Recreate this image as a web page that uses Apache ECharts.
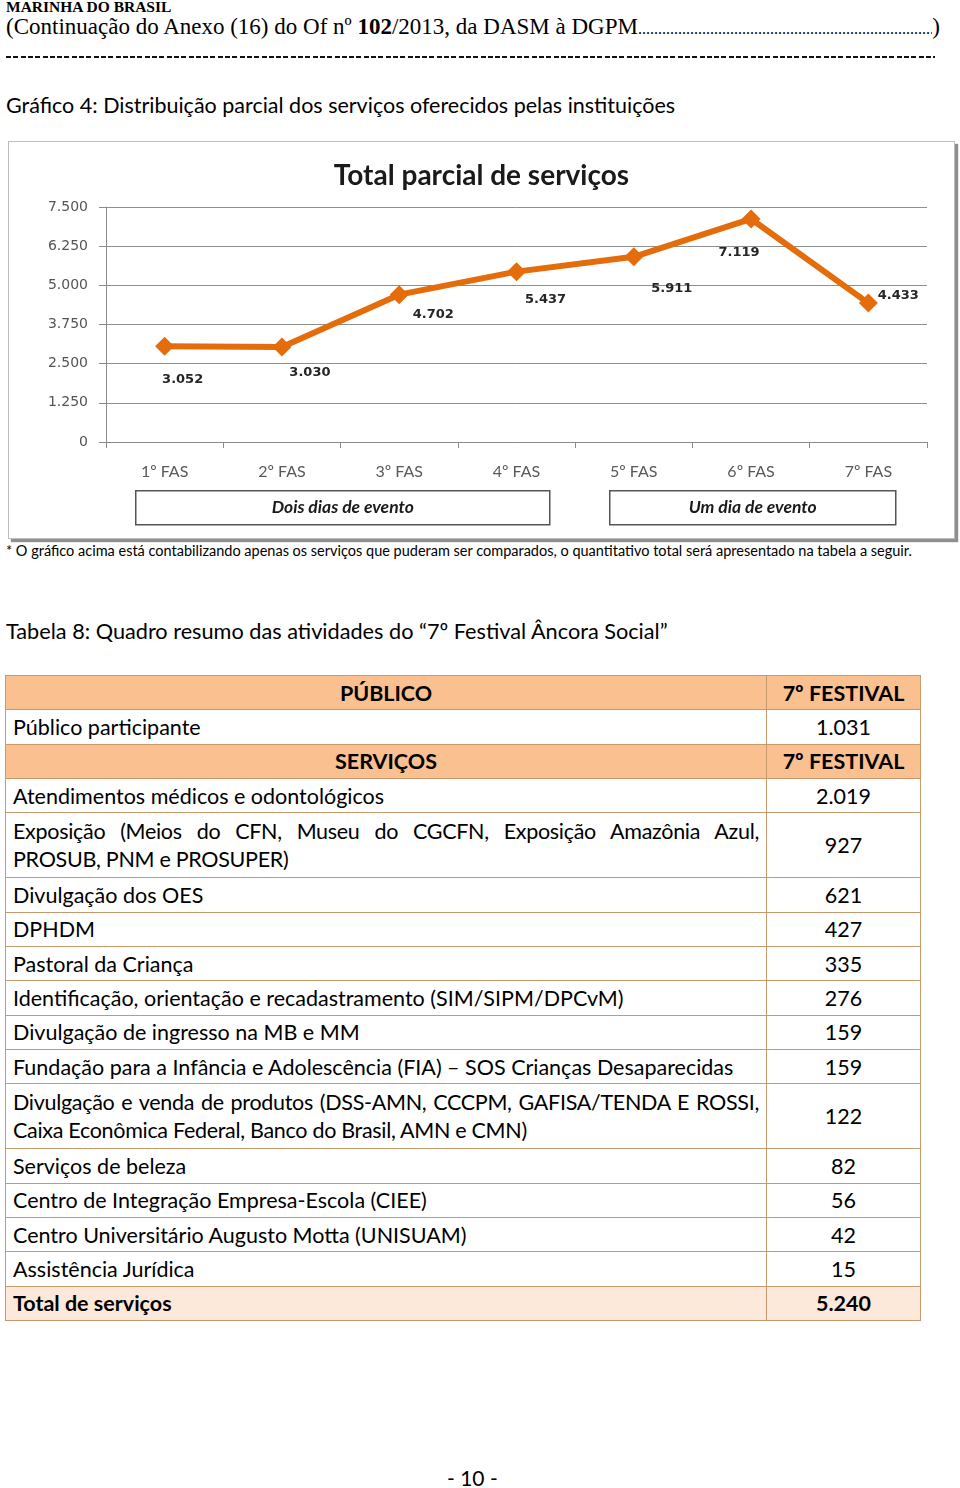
<!DOCTYPE html>
<html>
<head>
<meta charset="utf-8">
<script src="https://cdn.jsdelivr.net/npm/echarts@6/dist/echarts.min.js"></script>
<style>
  html, body { margin:0; padding:0; background:#fff; }
  body { width:960px; height:1488px; position:relative; overflow:hidden; font-family: Lato, "Open Sans", sans-serif; color:#000; }
  .abs { position:absolute; white-space:nowrap; }
  .serif { font-family:"Liberation Serif", "Times New Roman", serif; }
  .leader { display:flex; align-items:baseline; }
  .leader .fill { flex:1; overflow:hidden; white-space:nowrap; }
  #dashes { position:absolute; left:6px; top:56px; width:929px; height:2px; background:repeating-linear-gradient(90deg, #111 0 5px, transparent 5px 7.3px); }
  #chartBox { position:absolute; left:8px; top:141px; width:945px; height:396px; border:1px solid #bdbdbd; box-shadow:3px 3px 1px #8f8f8f; background:#fff; }
  #chart { width:945px; height:396px; }
  table { position:absolute; left:5px; top:675px; width:916px; border-collapse:collapse; font-size:21.5px; }
  tr { height:34.33px; }
  tr.dbl { height:65px; }
  td { border:1px solid #c8996c; padding:0 7px; line-height:28px; }
  td.num { text-align:center; width:153px; padding:0; }
  tr.hdr td { background:#fac090; font-weight:bold; text-align:center; }
  tr.tot td { background:#fde9d9; font-weight:bold; }
  td.just { text-align:justify; text-align-last:left; letter-spacing:-0.3px; }
</style>
</head>
<body>
<div class="abs serif" style="left:6px;top:-2px;font-size:15.5px;font-weight:bold;">MARINHA DO BRASIL</div>
<div class="abs serif leader" style="left:6px;top:14px;width:934px;font-size:23px;">
  <span>(Continuação do Anexo (16) do Of nº <b>102</b>/2013, da DASM à DGPM</span><span class="fill" style="font-size:16px;">..............................................................................................................................................</span><span>)</span>
</div>
<div id="dashes"></div>
<div class="abs" style="left:6px;top:92px;font-size:21.5px;">Gráfico 4: Distribuição parcial dos serviços oferecidos pelas instituições</div>

<div id="chartBox"><div id="chart"></div></div>

<div class="abs" id="footnote" style="left:6px;top:542px;font-size:14.5px;">* O gráfico acima está contabilizando apenas os serviços que puderam ser comparados, o quantitativo total será apresentado na tabela a seguir.</div>
<div class="abs" style="left:6px;top:618px;font-size:21.7px;">Tabela 8: Quadro resumo das atividades do “7º Festival Âncora Social”</div>

<table id="tbl"></table>

<div class="abs" style="left:447px;top:1465px;font-size:21px;">- 10 -</div>

<script>
// ---- Chart data ----
const categories = ['1º FAS', '2º FAS', '3º FAS', '4º FAS', '5º FAS', '6º FAS', '7º FAS'];
const totals = [3052, 3030, 4702, 5437, 5911, 7119, 4433];
const yTicks = [0, 1250, 2500, 3750, 5000, 6250, 7500];
const groupLabels = ['Dois dias de evento', 'Um dia de evento'];

// ---- Table data ----
const tableColHeader = '7º FESTIVAL';
const publicoHeader = 'PÚBLICO';
const publicoLabels = ['Público participante'];
const publicoValues = [1031];
const servicosHeader = 'SERVIÇOS';
const servicosLabels = [
  'Atendimentos médicos e odontológicos',
  'Exposição (Meios do CFN, Museu do CGCFN, Exposição Amazônia Azul, PROSUB, PNM e PROSUPER)',
  'Divulgação dos OES',
  'DPHDM',
  'Pastoral da Criança',
  'Identificação, orientação e recadastramento (SIM/SIPM/DPCvM)',
  'Divulgação de ingresso na MB e MM',
  'Fundação para a Infância e Adolescência (FIA) – SOS Crianças Desaparecidas',
  'Divulgação e venda de produtos (DSS-AMN, CCCPM, GAFISA/TENDA E ROSSI, Caixa Econômica Federal, Banco do Brasil, AMN e CMN)',
  'Serviços de beleza',
  'Centro de Integração Empresa-Escola (CIEE)',
  'Centro Universitário Augusto Motta (UNISUAM)',
  'Assistência Jurídica'
];
const servicosValues = [2019, 927, 621, 427, 335, 276, 159, 159, 122, 82, 56, 42, 15];
const totalLabel = 'Total de serviços';
const totalValue = 5240;

// ---- styling (not data) ----
const labelOffsets = [[18, 33], [28, 26], [34, 20], [29, 28], [38, 32], [-12, 34], [30, -7]];

function fmt(v) { return String(v).replace(/\B(?=(\d{3})+(?!\d))/g, '.'); }

// build table
(function () {
  const t = document.getElementById('tbl');
  let html = '';
  html += `<tr class="hdr"><td>${publicoHeader}</td><td class="num">${tableColHeader}</td></tr>`;
  publicoLabels.forEach((l, i) => { html += `<tr><td>${l}</td><td class="num">${fmt(publicoValues[i])}</td></tr>`; });
  html += `<tr class="hdr"><td>${servicosHeader}</td><td class="num">${tableColHeader}</td></tr>`;
  servicosLabels.forEach((l, i) => {
    const dbl = l.length > 80;
    html += `<tr class="${dbl ? 'dbl' : ''}"><td class="${dbl ? 'just' : ''}">${l}</td><td class="num">${fmt(servicosValues[i])}</td></tr>`;
  });
  html += `<tr class="tot"><td>${totalLabel}</td><td class="num">${fmt(totalValue)}</td></tr>`;
  t.innerHTML = html;
})();

const chart = echarts.init(document.getElementById('chart'), null, { renderer: 'canvas' });
const orange = '#e46c0a';
chart.setOption({
  animation: false,
  title: {
    text: 'Total parcial de serviços',
    left: 'center',
    top: 15,
    textStyle: { fontFamily: 'Lato', fontWeight: 'bold', fontSize: 28, color: '#1a1a1a' }
  },
  grid: { left: 97, right: 27, top: 65, bottom: 96 },
  xAxis: {
    type: 'category',
    data: categories,
    boundaryGap: true,
    axisLine: { lineStyle: { color: '#8a8a8a', width: 1 } },
    axisTick: { show: true, length: 6, lineStyle: { color: '#8a8a8a' } },
    axisLabel: { margin: 22, fontFamily: 'Lato', fontSize: 16, color: '#595959' }
  },
  yAxis: {
    type: 'value',
    min: yTicks[0],
    max: yTicks[yTicks.length - 1],
    interval: yTicks[1] - yTicks[0],
    axisLine: { show: true, lineStyle: { color: '#8a8a8a' } },
    axisTick: { show: true, length: 7, lineStyle: { color: '#8a8a8a' } },
    axisLabel: { margin: 18, fontFamily: 'DejaVu Sans', fontSize: 14, color: '#555', formatter: v => fmt(v) },
    splitLine: { lineStyle: { color: '#8f8f8f', width: 1 } }
  },
  series: [{
    type: 'line',
    data: totals.map((v, i) => ({
      value: v,
      label: { offset: labelOffsets[i] }
    })),
    symbol: 'diamond',
    symbolSize: 19,
    lineStyle: { color: orange, width: 6 },
    itemStyle: { color: orange },
    label: {
      show: true,
      position: 'inside',
      align: 'center',
      verticalAlign: 'middle',
      fontFamily: 'DejaVu Sans',
      fontWeight: 'bold',
      fontSize: 13,
      color: '#262626',
      formatter: p => fmt(p.value)
    }
  }],
  graphic: [
    {
      type: 'group', left: 126, top: 348,
      children: [
        { type: 'rect', shape: { x: 0, y: 0, width: 414, height: 34 }, style: { fill: '#fff', stroke: '#555', lineWidth: 1.5 } },
        { type: 'text', x: 207, y: 17, style: { text: groupLabels[0], align: 'center', verticalAlign: 'middle', font: 'italic bold 17.5px Lato', fill: '#1a1a1a' } }
      ]
    },
    {
      type: 'group', left: 600, top: 348,
      children: [
        { type: 'rect', shape: { x: 0, y: 0, width: 286, height: 34 }, style: { fill: '#fff', stroke: '#555', lineWidth: 1.5 } },
        { type: 'text', x: 143, y: 17, style: { text: groupLabels[1], align: 'center', verticalAlign: 'middle', font: 'italic bold 17.5px Lato', fill: '#1a1a1a' } }
      ]
    }
  ]
});
</script>
</body>
</html>
